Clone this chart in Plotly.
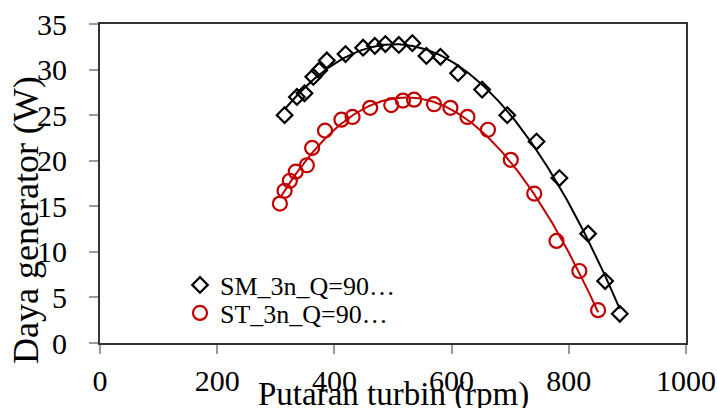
import numpy as np
import plotly.graph_objects as go

# Data
sm_rpm = [315, 336, 349, 364, 374, 387, 419, 449, 469, 487, 510, 533, 557, 581, 611, 652, 695, 745, 784, 833, 862, 887]
sm_w = [25.0, 27.0, 27.4, 29.2, 29.9, 31.0, 31.7, 32.4, 32.6, 32.8, 32.7, 32.9, 31.5, 31.4, 29.6, 27.8, 25.0, 22.1, 18.1, 12.0, 6.8, 3.2]

st_rpm = [307, 315, 324, 334, 353, 362, 384, 412, 431, 461, 497, 517, 536, 570, 598, 627, 662, 701, 741, 779, 818, 850]
st_w = [15.3, 16.7, 17.8, 18.8, 19.5, 21.4, 23.3, 24.5, 24.8, 25.8, 26.1, 26.6, 26.7, 26.2, 25.8, 24.8, 23.4, 20.1, 16.4, 11.2, 7.9, 3.6]

series_names = ["SM_3n_Q=90…", "ST_3n_Q=90…"]
x_ticks = [0, 200, 400, 600, 800, 1000]
y_ticks = [0, 5, 10, 15, 20, 25, 30, 35]

FONT = "Liberation Serif, Times New Roman, serif"
RED = "#C00000"

L, R, T, B = 100, 31, 24, 65
PW = 717 - L - R
PH = 408 - T - B


def trend(x, y, order=3):
    c = np.polyfit(x, y, order)
    xs = np.linspace(min(x), max(x), 200)
    return xs, np.polyval(c, xs)


fig = go.Figure()
for xs, ys, name, color, sym, lg in [
    (sm_rpm, sm_w, series_names[0], "black", "diamond-open", "legend"),
    (st_rpm, st_w, series_names[1], RED, "circle-open", "legend2"),
]:
    tx, ty = trend(xs, ys)
    fig.add_trace(go.Scatter(x=tx, y=ty, mode="lines", line=dict(color=color, width=2),
                             showlegend=False, hoverinfo="skip"))
    fig.add_trace(go.Scatter(x=xs, y=ys, mode="markers", name=name, legend=lg,
                             marker=dict(symbol=sym, size=12 if sym.startswith("diamond") else 14,
                                         color=color, line=dict(color=color, width=2.2))))

axis_common = dict(
    showgrid=False, zeroline=False, showline=True, mirror=True, automargin=False,
    linecolor="#333333", linewidth=2, ticks="outside", ticklen=9,
    tickcolor="#999999", tickwidth=1.5,
    tickfont=dict(family=FONT, size=30, color="black"),
)

leg_common = dict(xanchor="left", yanchor="middle", bgcolor="rgba(0,0,0,0)",
                  font=dict(family=FONT, size=26, color="black"), itemwidth=30)
leg_x = (180 - L) / PW

fig.update_layout(
    width=717, height=408,
    margin=dict(l=L, r=R, t=T, b=B, autoexpand=False),
    paper_bgcolor="white", plot_bgcolor="white",
    font=dict(family=FONT, color="black"),
    xaxis=dict(range=[0, 1000], tickvals=x_ticks, ticklabelstandoff=1, **axis_common),
    yaxis=dict(range=[0, 35], tickvals=y_ticks, ticklabelstandoff=16, **axis_common),
    legend=dict(x=leg_x, y=(343 - 285) / PH, **leg_common),
    legend2=dict(x=leg_x, y=(343 - 313) / PH, **leg_common),
    annotations=[
        dict(text="Daya generator (W)", xref="paper", yref="paper", x=(26 - L) / PW, y=(343 - 220) / PH,
             xanchor="center", yanchor="middle", textangle=-90, showarrow=False,
             font=dict(family=FONT, size=36, color="black")),
        dict(text="Putaran turbin (rpm)", xref="paper", yref="paper", x=0.5, y=(343 - 394) / PH,
             xanchor="center", yanchor="middle", showarrow=False,
             font=dict(family=FONT, size=33, color="black")),
    ],
)

fig.write_html("out.html")
